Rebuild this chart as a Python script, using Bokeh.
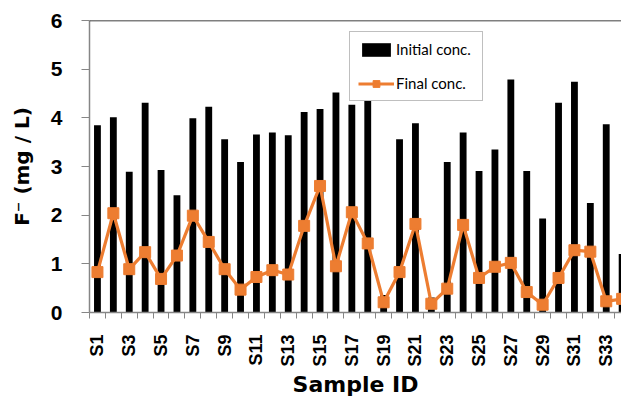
from math import pi
from bokeh.plotting import figure
from bokeh.models import Range1d, FixedTicker, Span, Legend, LegendItem, ColumnDataSource
from bokeh.embed import file_html
from bokeh.resources import INLINE

samples = ["S1", "S2", "S3", "S4", "S5", "S6", "S7", "S8", "S9", "S10",
           "S11", "S12", "S13", "S14", "S15", "S16", "S17", "S18", "S19", "S20",
           "S21", "S22", "S23", "S24", "S25", "S26", "S27", "S28", "S29", "S30",
           "S31", "S32", "S33", "S34"]
initial_conc = [3.85, 4.01, 2.89, 4.31, 2.93, 2.41, 3.99, 4.23, 3.56, 3.09,
                3.66, 3.70, 3.64, 4.12, 4.18, 4.52, 4.27, 4.47, 0.36, 3.56,
                3.89, 0.31, 3.09, 3.70, 2.91, 3.35, 4.79, 2.91, 1.93, 4.31,
                4.74, 2.25, 3.87, 1.20]
final_conc = [0.83, 2.04, 0.89, 1.24, 0.69, 1.17, 1.99, 1.45, 0.89, 0.47,
              0.73, 0.87, 0.78, 1.78, 2.60, 0.95, 2.06, 1.42, 0.21, 0.83,
              1.82, 0.18, 0.49, 1.80, 0.71, 0.94, 1.02, 0.42, 0.16, 0.71,
              1.28, 1.25, 0.23, 0.28]
y_ticks = [0, 1, 2, 3, 4, 5, 6]

xs = list(range(1, len(samples) + 1))
src = ColumnDataSource(dict(x=xs, initial=initial_conc, final=final_conc))

p = figure(width=621, height=399, output_backend="svg", toolbar_location=None,
           x_range=Range1d(0.5, 33.96), y_range=Range1d(0, 6),
           min_border_left=89, min_border_top=20, min_border_right=0,
           min_border_bottom=86)
p.outline_line_color = None
p.xgrid.visible = False
p.ygrid.visible = False
p.background_fill_color = "white"
p.border_fill_color = "white"

bars = p.vbar(x="x", top="initial", width=0.43, bottom=0, source=src,
              fill_color="black", line_color=None)
ln = p.line(x="x", y="final", source=src, line_color="#ED7D31", line_width=3.2)
pts = p.scatter(x="x", y="final", source=src, marker="square", size=11,
                fill_color="#ED7D31", line_color="#ED7D31")

p.add_layout(Span(location=6, dimension="width", line_color="black", line_width=1.5))

# y axis
ya = p.yaxis[0]
ya.ticker = FixedTicker(ticks=y_ticks)
ya.axis_label = "F\u207b (mg / L)"
ya.axis_label_text_font = "DejaVu Sans"
ya.axis_label_text_font_style = "bold"
ya.axis_label_text_font_size = "20px"
ya.axis_label_text_color = "black"
ya.axis_label_standoff = 14
ya.major_label_text_font = "Liberation Sans"
ya.major_label_text_font_style = "bold"
ya.major_label_text_font_size = "21px"
ya.major_label_text_color = "black"
ya.major_label_standoff = 19
ya.axis_line_color = "#868686"
ya.axis_line_width = 1.5
ya.major_tick_line_color = "#868686"
ya.major_tick_out = 8
ya.major_tick_in = 0
ya.minor_tick_line_color = None

# x axis
xa = p.xaxis[0]
xa.ticker = FixedTicker(ticks=xs[::2], minor_ticks=[i + 0.5 for i in range(0, len(samples) + 1)])
xa.major_label_overrides = {i: s for i, s in zip(xs, samples)}
xa.major_label_orientation = pi / 2
xa.major_label_text_font = "Liberation Sans"
xa.major_label_text_font_style = "bold"
xa.major_label_text_font_size = "18px"
xa.major_label_text_color = "black"
xa.major_label_standoff = 16
xa.major_tick_out = 0
xa.major_tick_in = 0
xa.minor_tick_out = 6
xa.minor_tick_in = 0
xa.minor_tick_line_color = "#868686"
xa.axis_line_color = "#868686"
xa.axis_line_width = 1.5
xa.axis_label = "Sample ID"
xa.axis_label_text_font = "DejaVu Sans"
xa.axis_label_text_font_style = "bold"
xa.axis_label_text_font_size = "22px"
xa.axis_label_text_color = "black"
xa.axis_label_standoff = 2

legend = Legend(items=[LegendItem(label="Initial conc.", renderers=[bars]),
                       LegendItem(label="Final conc.", renderers=[ln, pts])],
                location=(260, 211), orientation="vertical",
                padding=8, spacing=16, glyph_width=36, glyph_height=17,
                label_height=17, label_width=78, label_standoff=2, margin=0,
                label_text_font="Lato", label_text_font_size="15px",
                label_text_color="black",
                border_line_color="#808080", border_line_width=1,
                background_fill_color="white", background_fill_alpha=1.0)
p.add_layout(legend, "center")

open("out.html", "w").write(file_html(p, INLINE))
